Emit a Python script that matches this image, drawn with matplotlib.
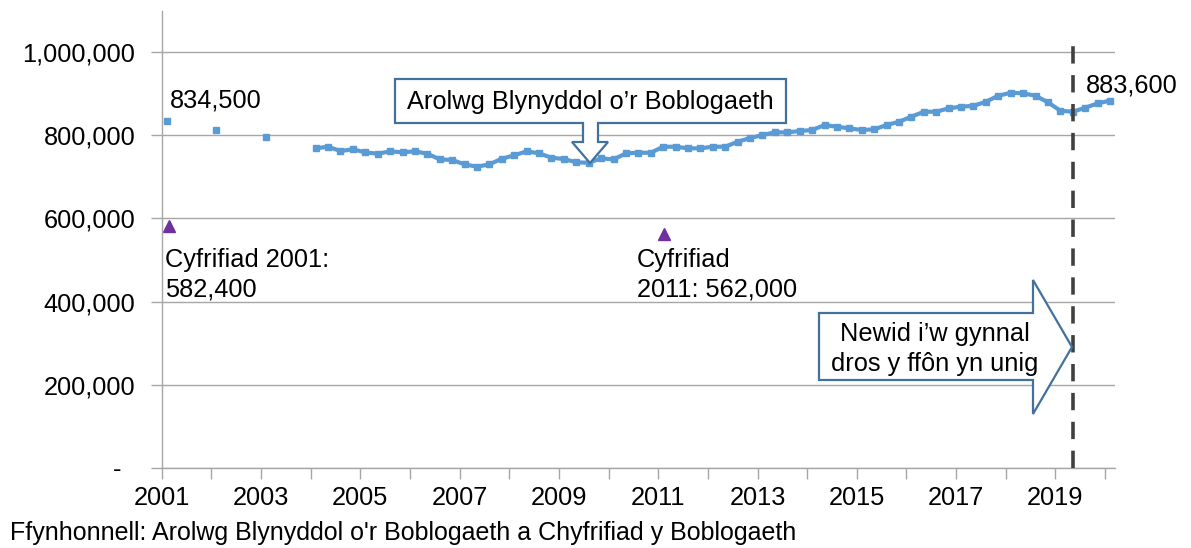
import numpy as np
import matplotlib
matplotlib.use("Agg")
import matplotlib.pyplot as plt
from matplotlib.patches import Polygon

plt.rcParams['font.family'] = ['Liberation Sans', 'DejaVu Sans']

# annual estimates before the quarterly series starts
early_years = [2001.1, 2002.1, 2003.1]
early_values = [834500, 814000, 796500]

# rolling annual estimates, one per quarter from 2004 to 2020
quarter_start = 2004.1
quarter_values = [
    768700, 772600, 762200, 766300, 759100, 755700, 761500, 759100,
    761500, 755700, 742200, 740600, 730200, 724400, 730200, 743700,
    751900, 761500, 756700, 746100, 743000, 735000, 734000, 744600,
    742000, 756600, 758200, 758000, 772600, 772600, 768700, 768700,
    772600, 772600, 784600, 793500, 800700, 807200, 807200, 810400,
    812800, 824800, 820700, 816800, 812800, 814400, 824800, 832700,
    844800, 856800, 856800, 865000, 869000, 871000, 880900, 895300,
    902500, 901100, 895300, 879400, 859200, 856800, 866400, 877000,
    883600,
]
quarter_years = quarter_start + 0.25 * np.arange(len(quarter_values))

census_years = [2001.14, 2011.12]
census_values = [582400, 562000]

phone_change = 2019.36

y_ticks = [0, 200000, 400000, 600000, 800000, 1000000]
y_labels = ["-  ", "200,000", "400,000", "600,000", "800,000", "1,000,000"]
x_ticks = list(range(2001, 2021))
x_labels = [str(y) if y % 2 == 1 else "" for y in x_ticks]

W, H = 1191, 548
fig = plt.figure(figsize=(W / 100, H / 100), dpi=100)
ax = fig.add_axes([161.7 / W, 80.3 / H, (1115 - 161.7) / W, (467.7 - 10.7) / H])

blue = "#5B9BD5"
grid = "#A6A6A6"
edge = "#41719C"
fs = 18.3

ax.plot(early_years, early_values, linestyle="none", marker="s", ms=4.5, color=blue)
ax.plot(quarter_years, quarter_values, color=blue, lw=3, marker="s", ms=4.5,
        solid_capstyle="round", solid_joinstyle="round")
ax.plot(census_years, census_values, linestyle="none", marker="^", ms=9, color="#7030A0")

ax.axvline(phone_change, ymin=0, ymax=1032 / 1100, color="#404040", lw=2.6,
           dashes=(4.8, 3.2), zorder=5)

ax.set_xlim(2001, 2020.2)
ax.set_ylim(0, 1100000)
ax.set_yticks(y_ticks)
ax.set_yticklabels(y_labels)
ax.set_xticks(x_ticks)
ax.set_xticklabels(x_labels)
ax.tick_params(axis="both", length=8, width=1, color=grid, labelsize=fs)
ax.tick_params(axis="y", pad=11)
ax.tick_params(axis="x", pad=5)
ax.grid(axis="y", color=grid, lw=1)
ax.set_axisbelow(True)
for side in ["top", "right"]:
    ax.spines[side].set_visible(False)
for side in ["left", "bottom"]:
    ax.spines[side].set_color(grid)
    ax.spines[side].set_linewidth(1)

ax.text(2001.17, 885000, "834,500", fontsize=fs, va="center", ha="left")
ax.text(2019.62, 921000, "883,600", fontsize=fs, va="center", ha="left")
ax.text(2001.07, 530000, "Cyfrifiad 2001:\n582,400", fontsize=fs, va="top", ha="left",
        linespacing=1.3)
ax.text(2010.57, 530000, "Cyfrifiad\n2011: 562,000", fontsize=fs, va="top", ha="left",
        linespacing=1.3)


def px(points):
    return [(x / W, 1 - y / H) for x, y in points]


down_callout = [(395, 79), (786, 79), (786, 123), (598, 123), (598, 142), (608, 142),
                (590, 163), (572, 142), (583, 142), (583, 123), (395, 123)]
right_callout = [(819, 313), (1033, 313), (1033, 280), (1072, 347), (1033, 414),
                 (1033, 380), (819, 380)]
for shape in [down_callout, right_callout]:
    fig.add_artist(Polygon(px(shape), closed=True, transform=fig.transFigure,
                           facecolor="white", edgecolor=edge, lw=1.6, zorder=10))

fig.text(590 / W, 1 - 102 / H, "Arolwg Blynyddol o’r Boblogaeth", fontsize=fs,
         ha="center", va="center", zorder=11)
fig.text(935 / W, 1 - 349 / H, "Newid i’w gynnal\ndros y ffôn yn unig", fontsize=fs,
         ha="center", va="center", multialignment="center", linespacing=1.3, zorder=11)

fig.text(10 / W, 1 - 533 / H,
         "Ffynhonnell: Arolwg Blynyddol o'r Boblogaeth a Chyfrifiad y Boblogaeth",
         fontsize=18, ha="left", va="center")

fig.savefig("out.png", dpi=100)
